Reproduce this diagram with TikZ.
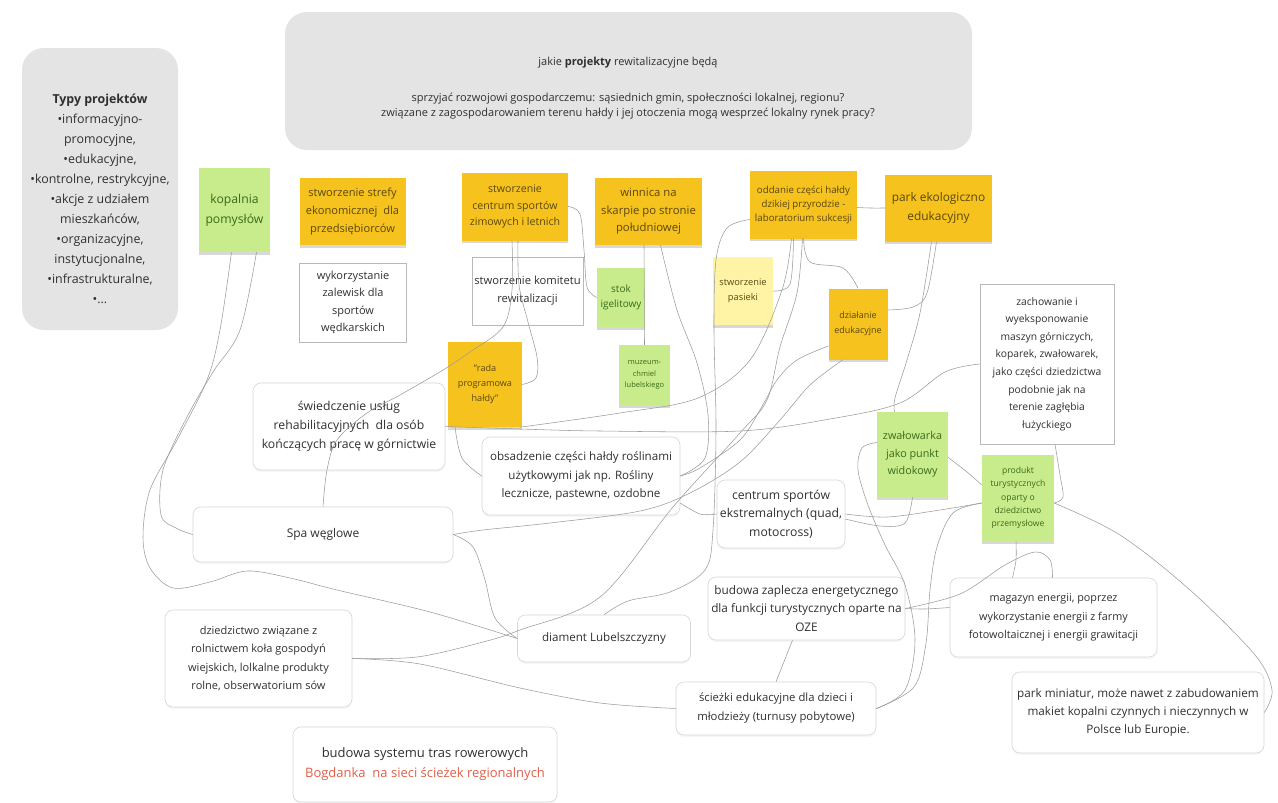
\documentclass[tikz,border=0pt]{standalone}
\usepackage{fontspec}
\setmainfont{Open Sans}
\usetikzlibrary{shadows}
\definecolor{gbox}{HTML}{E4E4E4}
\definecolor{ye}{HTML}{F6C21E}
\definecolor{yeT}{HTML}{5B4710}
\definecolor{gr}{HTML}{C8EB8C}
\definecolor{grT}{HTML}{3B6B18}
\definecolor{pa}{HTML}{FFF3A6}
\definecolor{txt}{HTML}{303030}
\definecolor{conn}{HTML}{9C9C9C}
\definecolor{redT}{HTML}{E0604A}
\definecolor{wline}{HTML}{D6D6D6}
\tikzset{
  nd/.style={align=center, inner sep=1pt, text=txt},
  fz/.style 2 args={font=\fontsize{#1}{#2}\selectfont},
  sz/.style 2 args={minimum width=#1pt, minimum height=#2pt},
  shd/.style={drop shadow={shadow xshift=0pt, shadow yshift=-2.5pt, opacity=0.3}},
  lshd/.style={drop shadow={shadow xshift=0pt, shadow yshift=-2pt, opacity=0.07}},
  gb/.style={nd, fill=gbox, rounded corners=22pt},
  wr/.style={nd, draw=wline, fill=white, rounded corners=8pt, line width=0.6pt, lshd},
  ws/.style={nd, draw=black!28, fill=white, line width=0.6pt},
  yel/.style={nd, fill=ye, text=yeT, shd},
  grn/.style={nd, fill=gr, text=grT, shd},
  pal/.style={nd, fill=pa, text=yeT, shd},
  cn/.style={draw=conn, line width=0.55pt},
}
\begin{document}
\begin{tikzpicture}[x=1pt,y=-1pt]
\useasboundingbox (0,0) rectangle (1278,803);
\fill[white] (0,0) rectangle (1278,803);

% gray boxes
\node[gb, sz={156}{282}] (typy) at (100,189) {};
\node[nd, fz={12.4}{20}] (typyt) at (100,199) {\textbf{Typy projektów}\\•informacyjno-\\promocyjne,\\•edukacyjne,\\•kontrolne, restrykcyjne,\\•akcje z udziałem\\mieszkańców,\\•organizacyjne,\\instytucjonalne,\\•infrastrukturalne,\\•...};
\node[gb, sz={687}{138}] (top) at (628.5,81) {};
\node[nd, fz={11}{14.5}] (topt) at (628,88) {jakie \textbf{projekty} rewitalizacyjne będą\\[22pt]sprzyjać rozwojowi gospodarczemu: sąsiednich gmin, społeczności lokalnej, regionu?\\związane z zagospodarowaniem terenu hałdy i jej otoczenia mogą wesprzeć lokalny rynek pracy?};

% sticky notes
\node[grn, sz={71}{84}, fz={12.2}{20}] (kop) at (234.5,210) {kopalnia\\pomysłów};
\node[yel, sz={106}{67}, fz={11.1}{18}] (strefa) at (352.5,211.5) {stworzenie strefy\\ekonomicznej~ dla\\przedsiębiorców};
\node[yel, sz={106}{68}, fz={10.6}{16.5}] (zimowe) at (515,206.5) {stworzenie\\centrum sportów\\zimowych i letnich};
\node[yel, sz={107}{67}, fz={11.3}{17.5}] (winnica) at (648.5,211.5) {winnica na\\skarpie po stronie\\południowej};
\node[grn, sz={48}{59}, fz={10}{15}] (stok) at (621,297.5) {stok\\igelitowy};
\node[grn, sz={51}{60}, fz={7.5}{11.5}] (muzeum) at (644.5,375) {muzeum-\\chmiel\\lubelskiego};
\node[yel, sz={107}{68}, fz={9.7}{14}] (oddanie) at (803.5,204.5) {oddanie części hałdy\\dzikiej przyrodzie -\\laboratorium sukcesji};
\node[yel, sz={107}{67}, fz={11.9}{18.5}] (park) at (938.5,208) {park ekologiczno\\edukacyjny};
\node[pal, sz={60}{68}, fz={9.3}{15}] (pasieka) at (743,291) {stworzenie\\pasieki};
\node[yel, sz={59}{71}, fz={9}{15}] (dzial) at (858,324) {działanie\\edukacyjne};
\node[yel, sz={74}{85}, fz={9.1}{15}] (rada) at (485,384.5) {"rada\\programowa\\hałdy"};
\node[grn, sz={71}{85}, fz={10.8}{17.5}] (zwal) at (912.5,454.5) {zwałowarka\\jako punkt\\widokowy};
\node[grn, sz={72}{86}, fz={8.6}{13.3}] (produkt) at (1018,498) {produkt\\turystycznych\\oparty o\\dziedzictwo\\przemysłowe};

% square white boxes
\node[ws, sz={107}{79}, fz={11}{17.5}] (zalew) at (353,302.5) {wykorzystanie\\zalewisk dla\\sportów\\wędkarskich};
\node[ws, sz={111}{68}, fz={11.2}{18}] (komitet) at (527.5,291) {stworzenie komitetu\\rewitalizacji};
\node[ws, sz={134}{160}, fz={10.3}{17.6}] (zach) at (1047,364) {zachowanie i\\wyeksponowanie\\maszyn górniczych,\\koparek, zwałowarek,\\jako części dziedzictwa\\podobnie jak na\\terenie zagłębia\\łużyckiego};

% rounded white boxes
\node[wr, sz={192}{87}, fz={12.2}{19}] (swiad) at (349,426.5) {świedczenie usług\\rehabilitacyjnych~ dla osób\\kończących pracę w górnictwie};
\node[wr, sz={198}{78}, fz={11.6}{18.5}] (obsad) at (581,476) {obsadzenie części hałdy roślinami\\użytkowymi jak np. Rośliny\\lecznicze, pastewne, ozdobne};
\node[wr, sz={260}{55}, fz={12}{19}] (spa) at (323,534.5) {Spa węglowe};
\node[wr, sz={128}{68}, fz={12.2}{18.3}] (ekstr) at (781,514) {centrum sportów\\ekstremalnych (quad,\\motocross)};
\node[wr, sz={197}{63}, fz={11.8}{18.3}] (zaplecze) at (806.5,608.5) {budowa zaplecza energetycznego\\dla funkcji turystycznych oparte na\\OZE};
\node[wr, sz={207}{79}, fz={10.8}{18.3}] (magazyn) at (1053.5,617.5) {magazyn energii, poprzez\\wykorzystanie energii z farmy\\fotowoltaicznej i energii grawitacji};
\node[wr, sz={173}{47}, fz={11.6}{18}] (diament) at (604,638.5) {diament Lubelszczyzny};
\node[wr, sz={187}{97}, fz={11}{18.3}] (dziedz) at (258.5,658.5) {dziedzictwo związane z\\rolnictwem koła gospodyń\\wiejskich, lolkalne produkty\\rolne, obserwatorium sów};
\node[wr, sz={200}{53}, fz={11.3}{19}] (sciezki) at (776,708.5) {ścieżki edukacyjne dla dzieci i\\młodzieży (turnusy pobytowe)};
\node[wr, sz={264}{75}, fz={13}{20}] (rower) at (425,764.5) {budowa systemu tras rowerowych\\{\color{redT}Bogdanka~ na sieci ścieżek regionalnych}};
\node[wr, sz={252}{81}, fz={11.7}{18.3}] (miniatur) at (1138,712.5) {park miniatur, może nawet z zabudowaniem\\makiet kopalni czynnych i nieczynnych w\\Polsce lub Europie.};

% connectors
\draw[cn] plot[smooth,tension=0.55] coordinates {([xshift=22pt]kop.south) (240,330) (213,372) (187,417) (163,470) (161,515) (176,528) (spa.west)};
\draw[cn] plot[smooth,tension=0.55] coordinates {([xshift=-3pt]kop.south) (220,330) (207,380) (177,440) (150,490) (143,537) (150,568) (173,588) (210,582) (247,571) (290,578) (337,590) (430,612) (diament.west)};
\draw[cn] plot[smooth,tension=0.55] coordinates {([xshift=-3pt]zimowe.south) (512,290) (503,327) (470,352) (443,370) (400,395) (367,413) (337,440) (327,470) (spa.north)};
\draw[cn] plot[smooth,tension=0.55] coordinates {([xshift=3pt]zimowe.south) (519,285) (528,322) (537,357) (536,378) (rada.east)};
\draw[cn] plot[smooth,tension=0.55] coordinates {([xshift=-30pt]rada.south) (462,458) (obsad.west)};
\draw[cn] plot[smooth,tension=0.55] coordinates {(zimowe.east) (580,214) (584,250) (587,287) (stok.west)};
\draw[cn] ([xshift=-4.5pt]winnica.south) -- (muzeum.north);
\draw[cn] plot[smooth,tension=0.55] coordinates {([xshift=12pt]winnica.south) (677,310) (697,363) (708,415) (705,458) (obsad.east)};
\draw[cn] plot[smooth,tension=0.55] coordinates {([yshift=-15pt]oddanie.west) (727,228) (716,260) (714,330) (716,430) (713,530) (705,570) (670,592) (628,601) (diament.north)};
\draw[cn] plot[smooth,tension=0.55] coordinates {(swiad.east) (520,429) (600,431) (740,431) (830,419) (900,403) (945,372) (zach.west)};
\draw[cn] plot[smooth,tension=0.55] coordinates {([xshift=35pt]rada.south) (620,413) (698,398) (750,360) (782,290) ([xshift=-12pt]oddanie.south)};
\draw[cn] plot[smooth,tension=0.55] coordinates {([yshift=-22pt]dzial.west) (797,360) (777,380) (760,410) (740,440) (700,468) (obsad.east)};
\draw[cn] plot[smooth,tension=0.55] coordinates {(pasieka.east) (790,284) ([xshift=-10pt]oddanie.south)};
\draw[cn] plot[smooth,tension=0.55] coordinates {(dziedz.east) (417,657) (483,642) (520,630) (600,597) (673,507) (740,433) (767,400) (780,347) (797,293) ([xshift=-1pt]oddanie.south)};
\draw[cn] plot[smooth,tension=0.55] coordinates {(dziedz.east) (420,664) (520,688) (600,703) (sciezki.west)};
\draw[cn] plot[smooth,tension=0.55] coordinates {(spa.east) (483,530) (550,523) (640,511) (690,493) (740,462) (780,420) (810,385) ([xshift=-15pt]dzial.south)};
\draw[cn] plot[smooth,tension=0.55] coordinates {(spa.east) (473,547) (485,580) (495,618) (diament.west)};
\draw[cn] plot[smooth,tension=0.55] coordinates {([yshift=-27pt]obsad.east) (700,514) (ekstr.west)};
\draw[cn] plot[smooth,tension=0.55] coordinates {([yshift=-3pt]oddanie.east) (870,208) (park.west)};
\draw[cn] plot[smooth,tension=0.55] coordinates {([xshift=0pt]oddanie.south) (810,262) (843,268) (dzial.north)};
\draw[cn] plot[smooth,tension=0.55] coordinates {([xshift=-2pt]park.south) (927,293) (913,307) ([yshift=14pt]dzial.east)};
\draw[cn] plot[smooth,tension=0.55] coordinates {([xshift=-7pt]park.south) (920,313) (907,360) (895,398) ([xshift=-18pt]zwal.north)};
\draw[cn] plot[smooth,tension=0.55] coordinates {([yshift=12pt]zwal.west) (862,448) (858,470) (868,505) (885,545) (905,585) (915,640) (905,690) (sciezki.east)};
\draw[cn] plot[smooth,tension=0.55] coordinates {([yshift=-3pt]zwal.east) (967,472) ([yshift=13pt]produkt.west)};
\draw[cn] plot[smooth,tension=0.55] coordinates {(ekstr.east) (887,517) (940,510) ([yshift=-5pt]produkt.west)};
\draw[cn] plot[smooth,tension=0.55] coordinates {([yshift=-5pt]ekstr.east) (880,526) (905,523) (zwal.south)};
\draw[cn] plot[smooth,tension=0.55] coordinates {(zaplecze.east) (925,609) ([yshift=10pt]magazyn.west)};
\draw[cn] plot[smooth,tension=0.55] coordinates {(zaplecze.east) (960,594) (1005,565) (1035,552) (1050,560) ([xshift=-1pt]magazyn.north)};
\draw[cn] plot[smooth,tension=0.55] coordinates {([xshift=-2pt]produkt.south) (1016,560) ([xshift=-41pt]magazyn.north)};
\draw[cn] plot[smooth,tension=0.55] coordinates {([xshift=8pt]zach.south) (1060,475) (1063,497) ([yshift=-5pt]produkt.east)};
\draw[cn] plot[smooth,tension=0.55] coordinates {([yshift=-5pt]produkt.east) (1120,535) (1190,590) (1255,655) (1272,690) (miniatur.east)};
\draw[cn] plot[smooth,tension=0.55] coordinates {([xshift=-14pt]zaplecze.south) (sciezki.north)};
\draw[cn] plot[smooth,tension=0.55] coordinates {(sciezki.east) (914,687) (926,643) (930,590) (937,547) (953,513) ([yshift=-5pt]produkt.west)};
\end{tikzpicture}
\end{document}
